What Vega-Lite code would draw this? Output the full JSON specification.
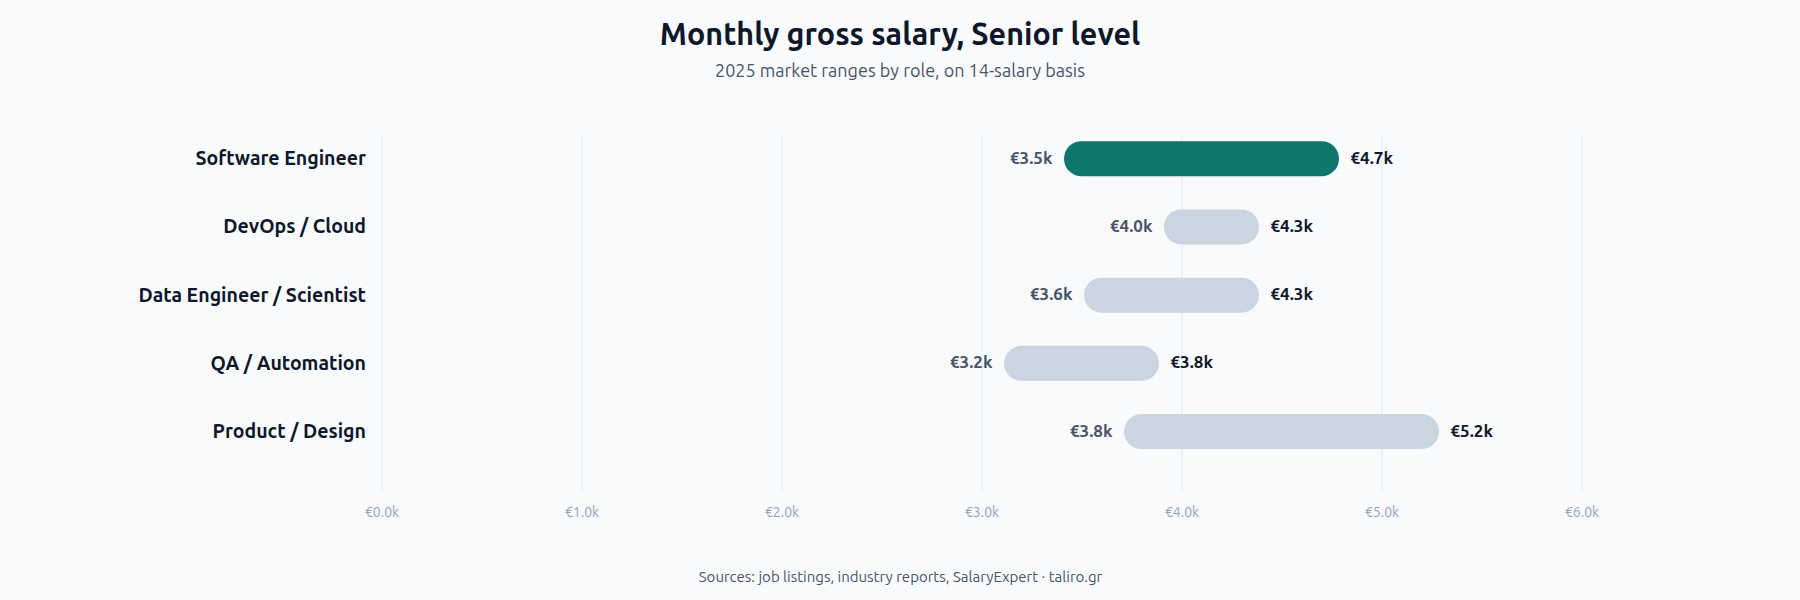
{
  "$schema": "https://vega.github.io/schema/vega-lite/v6.json",
  "width": 1200,
  "height": 354,
  "autosize": {"type": "none"},
  "padding": {"left": 381.5, "top": 136, "right": 218.5, "bottom": 110},
  "background": "#f8fafc",
  "title": {
    "text": "Monthly gross salary, Senior level",
    "subtitle": "2025 market ranges by role, on 14-salary basis",
    "anchor": "middle",
    "dx": -81.5,
    "offset": 55,
    "font": "Ubuntu, Noto Sans, sans-serif",
    "fontSize": 30.5,
    "fontWeight": "bold",
    "color": "#0f172a",
    "subtitleFont": "Ubuntu, Noto Sans, sans-serif",
    "subtitleFontSize": 18,
    "subtitleColor": "#475569",
    "subtitlePadding": 12
  },
  "data": {
    "values": [
      {"role": "Software Engineer", "low": 3.5, "high": 4.7},
      {"role": "DevOps / Cloud", "low": 4.0, "high": 4.3},
      {"role": "Data Engineer / Scientist", "low": 3.6, "high": 4.3},
      {"role": "QA / Automation", "low": 3.2, "high": 3.8},
      {"role": "Product / Design", "low": 3.8, "high": 5.2}
    ]
  },
  "encoding": {
    "y": {
      "field": "role",
      "type": "nominal",
      "sort": null,
      "title": null,
      "scale": {"type": "point", "padding": 0.595, "align": 0.28},
      "axis": {
        "domain": false,
        "ticks": false,
        "grid": false,
        "labelPadding": 16,
        "labelLimit": 400,
        "labelFont": "Ubuntu, Noto Sans, sans-serif",
        "labelFontSize": 19.5,
        "labelFontWeight": "bold",
        "labelColor": "#0f172a"
      }
    }
  },
  "layer": [
    {
      "mark": {"type": "rule", "strokeWidth": 35, "strokeCap": "round"},
      "encoding": {
        "x": {
          "field": "low",
          "type": "quantitative",
          "scale": {"domain": [0, 6], "nice": false, "zero": true},
          "title": "Sources: job listings, industry reports, SalaryExpert · taliro.gr",
          "axis": {
            "values": [0, 1, 2, 3, 4, 5, 6],
            "format": "$.1f",
            "domain": false,
            "ticks": false,
            "grid": true,
            "gridColor": "#e2e8f0",
            "gridWidth": 1,
            "labelFlush": false,
            "labelPadding": 15,
            "labelFont": "Ubuntu, Noto Sans, sans-serif",
            "labelFontSize": 14,
            "labelColor": "#94a3b8",
            "titleFont": "Ubuntu, Noto Sans, sans-serif",
            "titleFontSize": 15,
            "titleFontWeight": "normal",
            "titleColor": "#475569",
            "titleX": 518.5,
            "titleY": 86,
            "titleBaseline": "middle",
            "titleAnchor": "middle"
          }
        },
        "x2": {"field": "high"},
        "color": {
          "condition": {"test": "datum.role === 'Software Engineer'", "value": "#0f766e"},
          "value": "#cbd5e1"
        }
      }
    },
    {
      "mark": {
        "type": "text",
        "align": "right",
        "baseline": "middle",
        "dx": -29,
        "font": "Ubuntu, Noto Sans, sans-serif",
        "fontSize": 17,
        "fontWeight": "bold",
        "color": "#475569"
      },
      "encoding": {
        "x": {"field": "low", "type": "quantitative"},
        "text": {"field": "low", "type": "quantitative", "format": "$.1f"}
      }
    },
    {
      "mark": {
        "type": "text",
        "align": "left",
        "baseline": "middle",
        "dx": 29,
        "font": "Ubuntu, Noto Sans, sans-serif",
        "fontSize": 17,
        "fontWeight": "bold",
        "color": "#0f172a"
      },
      "encoding": {
        "x": {"field": "high", "type": "quantitative"},
        "text": {"field": "high", "type": "quantitative", "format": "$.1f"}
      }
    }
  ],
  "config": {
    "view": {"stroke": null},
    "locale": {
      "number": {
        "decimal": ".",
        "thousands": ",",
        "grouping": [3],
        "currency": ["€", "k"]
      }
    }
  }
}
